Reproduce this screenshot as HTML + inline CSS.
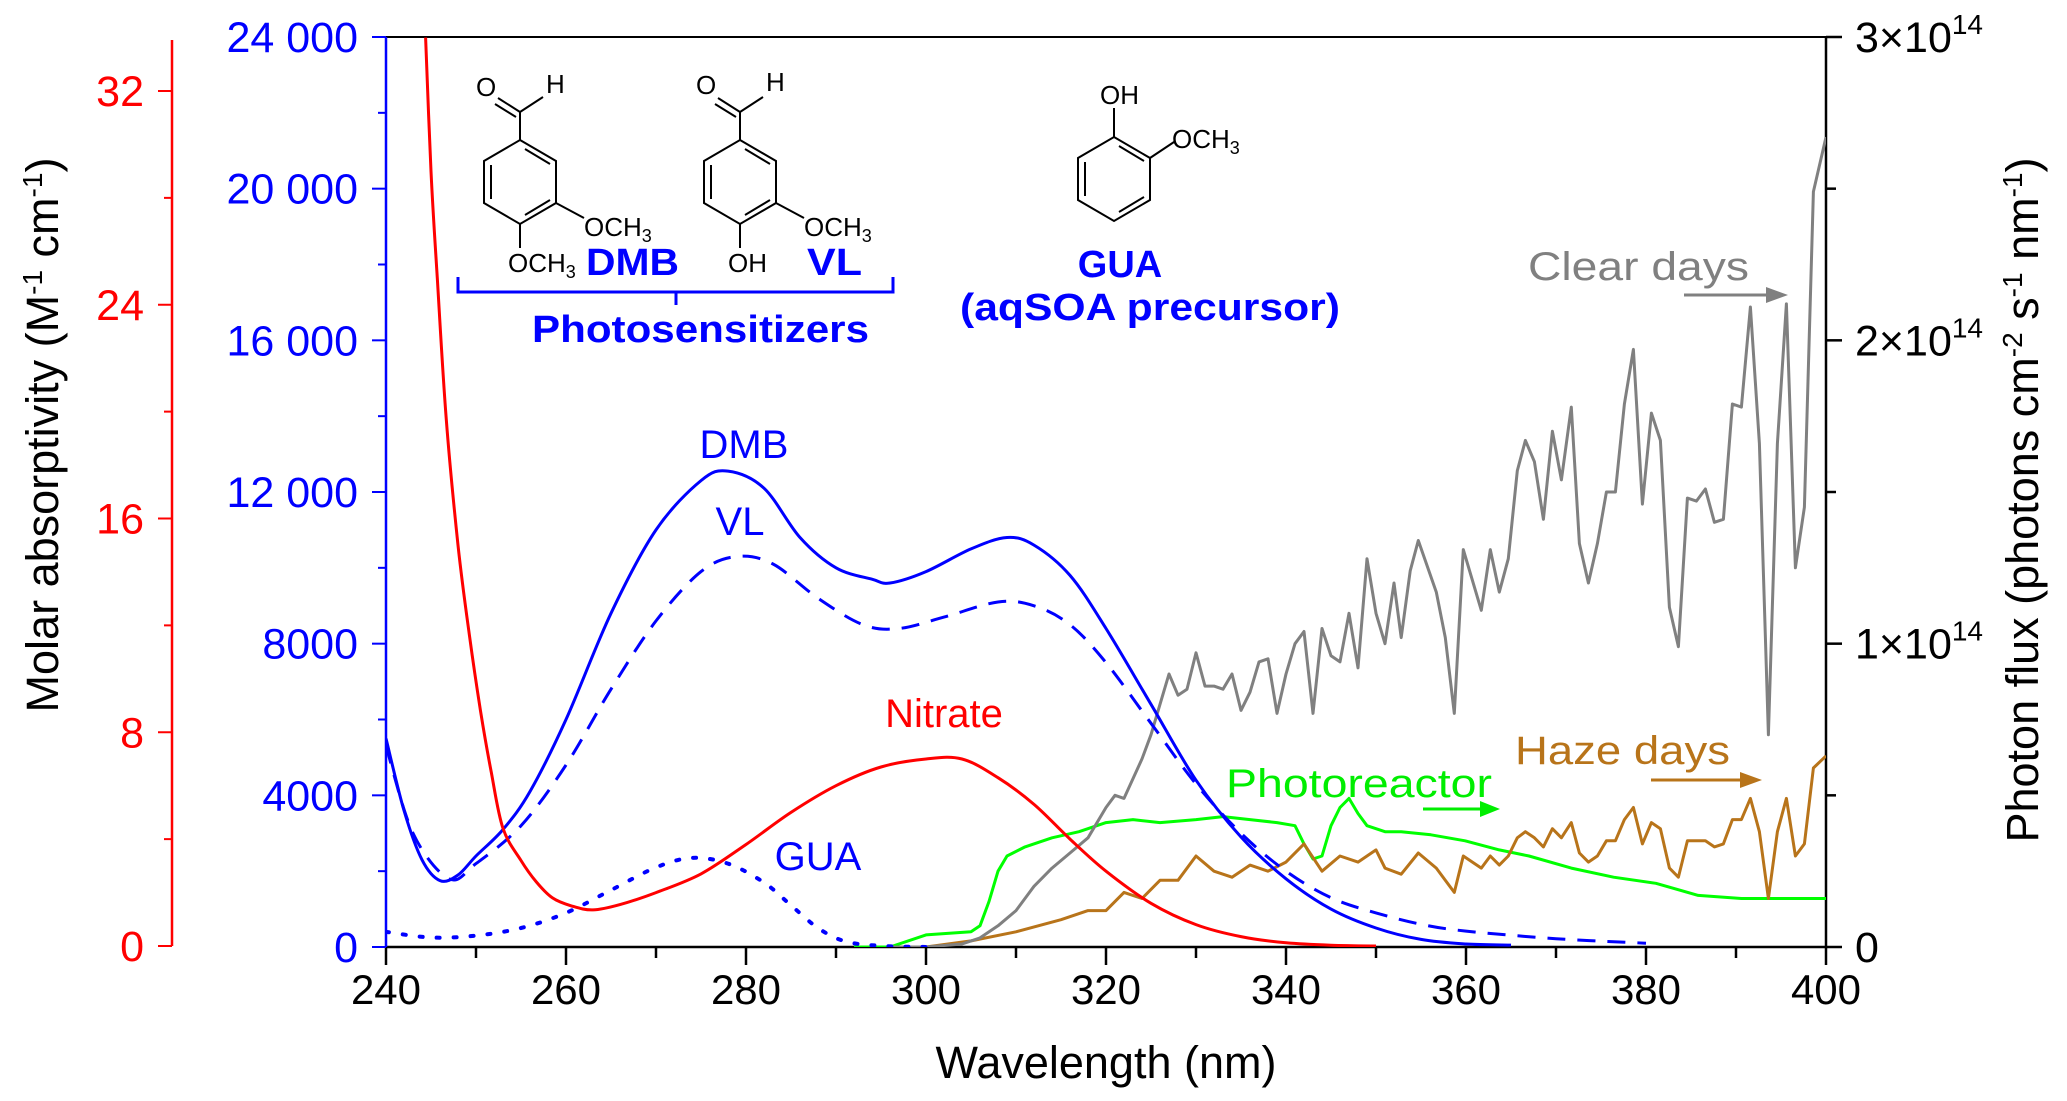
<!DOCTYPE html>
<html><head><meta charset="utf-8">
<style>
html,body{margin:0;padding:0;background:#fff;}
svg{display:block;font-family:"Liberation Sans",Arial,sans-serif;}
</style></head>
<body>
<svg id="chart" width="2067" height="1101" viewBox="0 0 2067 1101" xmlns="http://www.w3.org/2000/svg">
  <g id="axes"></g>
  <g id="series"></g>

  <g stroke="#000" stroke-width="2" fill="none">
    <polygon points="520,140 556,161 556,203 520,224 484,203 484,161"/>
    <line x1="525" y1="149" x2="550" y2="164"/><line x1="491" y1="165" x2="491" y2="199"/><line x1="525" y1="215" x2="550" y2="200"/>
    <line x1="520" y1="140" x2="520" y2="112"/><line x1="520" y1="112" x2="498" y2="98"/><line x1="516" y1="117" x2="495" y2="104"/>
    <line x1="520" y1="112" x2="543" y2="97"/>
    <line x1="556" y1="203" x2="584" y2="218"/><line x1="520" y1="224" x2="520" y2="248"/>
  </g>
  <g font-size="26" fill="#000">
    <text x="476" y="96">O</text>
    <text x="546" y="93">H</text>
    <text x="584" y="236">OCH<tspan font-size="18" dy="6">3</tspan></text>
    <text x="508" y="272">OCH<tspan font-size="18" dy="6">3</tspan></text>
  </g>
  <g stroke="#000" stroke-width="2" fill="none">
    <polygon points="740,140 776,161 776,203 740,224 704,203 704,161"/>
    <line x1="745" y1="149" x2="770" y2="164"/><line x1="711" y1="165" x2="711" y2="199"/><line x1="745" y1="215" x2="770" y2="200"/>
    <line x1="740" y1="140" x2="740" y2="112"/><line x1="740" y1="112" x2="718" y2="98"/><line x1="736" y1="117" x2="715" y2="104"/>
    <line x1="740" y1="112" x2="763" y2="97"/>
    <line x1="776" y1="203" x2="804" y2="218"/><line x1="740" y1="224" x2="740" y2="248"/>
  </g>
  <g font-size="26" fill="#000">
    <text x="696" y="94">O</text>
    <text x="766" y="91">H</text>
    <text x="804" y="236">OCH<tspan font-size="18" dy="6">3</tspan></text>
    <text x="728" y="272">OH</text>
  </g>
  <g stroke="#000" stroke-width="2" fill="none">
    <polygon points="1114,137 1150,158 1150,200 1114,221 1078,200 1078,158"/>
    <line x1="1119" y1="146" x2="1144" y2="161"/><line x1="1085" y1="162" x2="1085" y2="196"/><line x1="1119" y1="212" x2="1144" y2="197"/>
    <line x1="1114" y1="137" x2="1114" y2="108"/><line x1="1150" y1="158" x2="1174" y2="142"/>
  </g>
  <g font-size="26" fill="#000">
    <text x="1100" y="104">OH</text>
    <text x="1172" y="148">OCH<tspan font-size="18" dy="6">3</tspan></text>
  </g>
  <g fill="#0000ff" font-weight="bold" font-size="38">
    <text x="586" y="275" textLength="93" lengthAdjust="spacingAndGlyphs">DMB</text>
    <text x="807" y="275" textLength="55" lengthAdjust="spacingAndGlyphs">VL</text>
    <text x="532" y="342" textLength="337" lengthAdjust="spacingAndGlyphs">Photosensitizers</text>
    <text x="1120" y="277" text-anchor="middle">GUA</text>
    <text x="960" y="320" textLength="380" lengthAdjust="spacingAndGlyphs">(aqSOA precursor)</text>
  </g>
  <path d="M458,277 L458,292 L893,292 L893,277 M676,292 L676,305" stroke="#0000ff" stroke-width="3" fill="none"/>

  <g font-size="40">
    <text x="744" y="458" text-anchor="middle" fill="#0000ff">DMB</text>
    <text x="740" y="535" text-anchor="middle" fill="#0000ff">VL</text>
    <text x="944" y="727" text-anchor="middle" fill="#ff0000">Nitrate</text>
    <text x="818" y="870" text-anchor="middle" fill="#0000ff">GUA</text>
    <text x="1226" y="797" textLength="266" lengthAdjust="spacingAndGlyphs" fill="#00ee00">Photoreactor</text>
    <text x="1528" y="280" textLength="221" lengthAdjust="spacingAndGlyphs" fill="#808080">Clear days</text>
    <text x="1515" y="764" textLength="215" lengthAdjust="spacingAndGlyphs" fill="#b8741a">Haze days</text>
  </g>
  <g><line x1="1423" y1="809" x2="1482" y2="809" stroke="#00ee00" stroke-width="3"/><polygon points="1480,801 1500,809 1480,817" fill="#00ee00"/></g>
  <g><line x1="1684" y1="295" x2="1768" y2="295" stroke="#808080" stroke-width="3"/><polygon points="1766,287 1788,295 1766,303" fill="#808080"/></g>
  <g><line x1="1651" y1="780" x2="1742" y2="780" stroke="#b8741a" stroke-width="3"/><polygon points="1740,772 1762,780 1740,788" fill="#b8741a"/></g>

  <text x="1106" y="1078" text-anchor="middle" font-size="45" fill="#000">Wavelength (nm)</text>
  <text transform="translate(58,435) rotate(-90)" text-anchor="middle" font-size="45" fill="#000">Molar absorptivity (M<tspan font-size="28" dy="-16">-1</tspan><tspan dy="16"> cm</tspan><tspan font-size="28" dy="-16">-1</tspan><tspan dy="16">)</tspan></text>
  <text transform="translate(2038,500) rotate(-90)" text-anchor="middle" font-size="45" fill="#000">Photon flux (photons cm<tspan font-size="28" dy="-16">-2</tspan><tspan dy="16"> s</tspan><tspan font-size="28" dy="-16">-1</tspan><tspan dy="16"> nm</tspan><tspan font-size="28" dy="-16">-1</tspan><tspan dy="16">)</tspan></text>
</svg>
<script>
// ---- data ----
const xTicks = [240, 260, 280, 300, 320, 340, 360, 380, 400];
const blueTicks = [0, 4000, 8000, 12000, 16000, 20000, 24000];
const blueTickLabels = ["0", "4000", "8000", "12 000", "16 000", "20 000", "24 000"];
const redTicks = [0, 8, 16, 24, 32];
const fluxTicks = [0, 1, 2, 3];
const fluxTickLabels = ["0", "1×10", "2×10", "3×10"];

const dmbWl = [240,242,244,246,248,250,253,256,260,265,270,275,278,282,286,290,294,296,300,305,309,312,316,320,325,330,335,340,345,350,355,360,365];
const dmbVal = [5500,3600,2300,1750,1900,2400,3100,4100,6000,8800,11000,12300,12550,12100,10800,10000,9700,9600,9900,10500,10800,10600,9800,8400,6400,4400,2900,1800,1000,500,200,80,50];

const vlWl = [240,243,247,250,255,260,265,270,275,279,283,288,293,297,302,308,312,316,320,325,330,335,340,345,350,355,360,370,380];
const vlVal = [5300,3000,1800,2200,3200,4800,6800,8600,9900,10300,10100,9200,8500,8400,8700,9100,9000,8500,7500,5900,4300,3000,2000,1300,900,600,420,220,100];

const guaWl = [240,245,250,255,260,265,270,274,278,282,285,288,291,295,300];
const guaVal = [400,250,300,500,900,1500,2100,2350,2200,1700,1100,500,150,30,0];

const nitrateWl = [244.4,245,245.7,246.7,248,249.2,250.5,251.7,253,255,256.7,258.5,260.6,263,266,270,275,280,285,290,295,300,304,308,312,316,320,325,330,335,340,345,350];
const nitrateVal = [34,29,25,19.7,15,11.8,8.8,6.5,4.4,3.2,2.4,1.8,1.5,1.35,1.55,2.0,2.7,3.8,5.0,6.0,6.7,7.0,7.0,6.3,5.3,4.0,2.8,1.6,0.8,0.35,0.12,0.03,0];

const clearWl = [296,300,304,306,308,310,312,314,316,318,320,321,322,324,325,326,327,328,329,330,331,332,333,334,335,336,337,338,339,340,341,342,343,344,345,346,347,348,349,350,351,352,352.8,353.8,354.7,356.7,357.7,358.7,359.7,360.6,361.7,362.7,363.7,364.7,365.7,366.6,367.6,368.6,369.6,370.6,371.7,372.6,373.6,374.6,375.6,376.6,377.6,378.6,379.6,380.6,381.6,382.6,383.6,384.6,385.6,386.6,387.6,388.6,389.6,390.6,391.6,392.6,393.6,394.6,395.6,396.6,397.6,398.6,400];
const clearVal = [0,0,0.01,0.03,0.07,0.12,0.2,0.26,0.31,0.36,0.46,0.5,0.49,0.62,0.7,0.8,0.9,0.83,0.85,0.97,0.86,0.86,0.85,0.9,0.78,0.84,0.94,0.95,0.77,0.9,1.0,1.04,0.77,1.05,0.96,0.94,1.1,0.92,1.28,1.1,1.0,1.2,1.02,1.24,1.34,1.17,1.02,0.77,1.31,1.22,1.11,1.31,1.17,1.28,1.57,1.67,1.60,1.41,1.70,1.54,1.78,1.33,1.20,1.33,1.50,1.50,1.79,1.97,1.46,1.76,1.67,1.12,0.99,1.48,1.47,1.51,1.40,1.41,1.79,1.78,2.11,1.66,0.70,1.66,2.12,1.25,1.45,2.49,2.67];

const hazeWl = [300,305,310,315,318,320,322,324,326,328,330,332,334,336,338,340,342,344,346,348,350,351,352.8,354.7,356.7,358.7,359.7,361.7,362.7,363.7,364.7,365.7,366.6,367.6,368.6,369.6,370.6,371.7,372.6,373.6,374.6,375.6,376.6,377.6,378.6,379.6,380.6,381.6,382.6,383.6,384.6,386.6,387.6,388.6,389.6,390.6,391.6,392.6,393.6,394.6,395.6,396.6,397.6,398.6,400];
const hazeVal = [0,0.02,0.05,0.09,0.12,0.12,0.18,0.16,0.22,0.22,0.30,0.25,0.23,0.27,0.25,0.28,0.34,0.25,0.30,0.28,0.32,0.26,0.24,0.31,0.26,0.18,0.30,0.26,0.30,0.27,0.30,0.36,0.38,0.36,0.33,0.39,0.36,0.41,0.31,0.28,0.30,0.35,0.35,0.42,0.46,0.34,0.41,0.39,0.26,0.23,0.35,0.35,0.33,0.34,0.42,0.42,0.49,0.38,0.16,0.38,0.49,0.30,0.34,0.59,0.63];

const photoWl = [292,296,300,305,306,307,308,309,311,314,317,320,323,326,330,333,336,339,341,342,343,344,345,346,347,348,349,351,352.8,356.1,359.9,363.7,367,371.7,376.4,381.1,385.8,390.6,395.4,400];
const photoVal = [0,0,0.04,0.05,0.07,0.15,0.25,0.30,0.33,0.36,0.38,0.41,0.42,0.41,0.42,0.43,0.42,0.41,0.40,0.34,0.29,0.30,0.40,0.46,0.49,0.44,0.40,0.38,0.38,0.37,0.35,0.32,0.30,0.26,0.23,0.21,0.17,0.16,0.16,0.16];

// ---- scales ----
const X0 = 386, X1 = 1826, YB = 947, YT = 37;
const xs = w => X0 + (w - 240) / 160 * (X1 - X0);
const yBlue = v => YB - v / 24000 * (YB - YT);
const yRed = v => 946 - v / 32 * (946 - 91);
const yFlux = v => YB - v / 3 * (YB - YT);

const NS = "http://www.w3.org/2000/svg";
const axes = document.getElementById('axes');
const series = document.getElementById('series');
function mk(tag, attrs, parent) {
  const e = document.createElementNS(NS, tag);
  for (const k in attrs) e.setAttribute(k, attrs[k]);
  parent.appendChild(e);
  return e;
}

const defs = mk('defs', {}, document.getElementById('chart'));
const cp = mk('clipPath', {id: 'plotclip'}, defs);
mk('rect', {x: X0, y: YT, width: X1 - X0, height: YB - YT}, cp);
series.setAttribute('clip-path', 'url(#plotclip)');

let el;
el = mk('line', {x1: X0, y1: YT, x2: X1, y2: YT, stroke: '#000', 'stroke-width': 2}, axes);


el = mk('line', {x1: X0, y1: YB, x2: X1, y2: YB, stroke: '#000', 'stroke-width': 2.5}, axes);


el = mk('line', {x1: X1, y1: YT, x2: X1, y2: YB, stroke: '#000', 'stroke-width': 2.5}, axes);


el = mk('line', {x1: X0, y1: YT, x2: X0, y2: YB, stroke: '#0000ff', 'stroke-width': 2.5}, axes);


el = mk('line', {x1: 172, y1: 40, x2: 172, y2: 946, stroke: '#ff0000', 'stroke-width': 2.5}, axes);



for (let w = 240; w <= 400; w += 10) {
  const major = w % 20 === 0;
  el = mk('line', {x1: xs(w), y1: YB, x2: xs(w), y2: YB + (major ? 18 : 11), stroke: '#000', 'stroke-width': 2.5}, axes);
  
  
}
xTicks.forEach(w => {
  el = mk('text', {x: xs(w), y: 1004, 'text-anchor': 'middle', 'font-size': 42, fill: '#000'}, axes);
  el.textContent = w;
  
  
});
for (let v = 0; v <= 24000; v += 2000) {
  const major = v % 4000 === 0;
  el = mk('line', {x1: X0 - (major ? 14 : 8), y1: yBlue(v), x2: X0, y2: yBlue(v), stroke: '#0000ff', 'stroke-width': 2}, axes);
  
  
}
blueTicks.forEach((v, i) => {
  el = mk('text', {x: 358, y: yBlue(v) + 15, 'text-anchor': 'end', 'font-size': 43, fill: '#0000ff'}, axes);
  el.textContent = blueTickLabels[i];
  
  
});
for (let v = 0; v <= 32; v += 4) {
  const major = v % 8 === 0;
  el = mk('line', {x1: 172 - (major ? 14 : 8), y1: yRed(v), x2: 172, y2: yRed(v), stroke: '#ff0000', 'stroke-width': 2}, axes);
  
  
}
redTicks.forEach(v => {
  el = mk('text', {x: 144, y: yRed(v) + 15, 'text-anchor': 'end', 'font-size': 43, fill: '#ff0000'}, axes);
  el.textContent = v;
  
  
});
for (let v = 0; v <= 3; v += 0.5) {
  const major = v % 1 === 0;
  el = mk('line', {x1: X1, y1: yFlux(v), x2: X1 + (major ? 16 : 10), y2: yFlux(v), stroke: '#000', 'stroke-width': 2.5}, axes);
  
  
}
fluxTicks.forEach((v, i) => {
  el = mk('text', {x: 1855, y: yFlux(v) + 15, 'font-size': 43, fill: '#000'}, axes);
  
  
  if (v === 0) { el.textContent = '0'; }
  else {
    el.textContent = fluxTickLabels[i];
    const sup = document.createElementNS(NS, 'tspan');
    sup.setAttribute('font-size', 28);
    sup.setAttribute('dy', -18);
    sup.textContent = '14';
    el.appendChild(sup);
  }
});

function line(wl, vals, ys, color, name, extra, smooth) {
  const pts = wl.map((w, i) => [xs(w), ys(vals[i])]);
  let d = 'M' + pts[0][0].toFixed(1) + ',' + pts[0][1].toFixed(1);
  for (let i = 1; i < pts.length; i++) {
    if (smooth) {
      const p0 = pts[Math.max(0, i - 2)], p1 = pts[i - 1], p2 = pts[i], p3 = pts[Math.min(pts.length - 1, i + 1)];
      const c1x = p1[0] + (p2[0] - p0[0]) / 6, c1y = p1[1] + (p2[1] - p0[1]) / 6;
      const c2x = p2[0] - (p3[0] - p1[0]) / 6, c2y = p2[1] - (p3[1] - p1[1]) / 6;
      d += ' C' + c1x.toFixed(1) + ',' + c1y.toFixed(1) + ' ' + c2x.toFixed(1) + ',' + c2y.toFixed(1) + ' ' + p2[0].toFixed(1) + ',' + p2[1].toFixed(1);
    } else {
      d += ' L' + pts[i][0].toFixed(1) + ',' + pts[i][1].toFixed(1);
    }
  }
  const attrs = {d: d, fill: 'none', stroke: color, 'stroke-width': 3, 'stroke-linejoin': 'round'};
  for (const k in (extra || {})) attrs[k] = extra[k];
  const p = mk('path', attrs, series);
  
  
}
line(photoWl, photoVal, yFlux, '#00ff00', 'photoreactor-line');
line(hazeWl, hazeVal, yFlux, '#b8741a', 'haze-days-line');
line(clearWl, clearVal, yFlux, '#808080', 'clear-days-line');
line(guaWl, guaVal, yBlue, '#0000ff', 'gua-line', {'stroke-dasharray': '3 14', 'stroke-linecap': 'round', 'stroke-width': 4}, true);
line(vlWl, vlVal, yBlue, '#0000ff', 'vl-line', {'stroke-dasharray': '18 12'}, true);
line(dmbWl, dmbVal, yBlue, '#0000ff', 'dmb-line', null, true);
line(nitrateWl, nitrateVal, yRed, '#ff0000', 'nitrate-line', null, true);
</script>
</body></html>
